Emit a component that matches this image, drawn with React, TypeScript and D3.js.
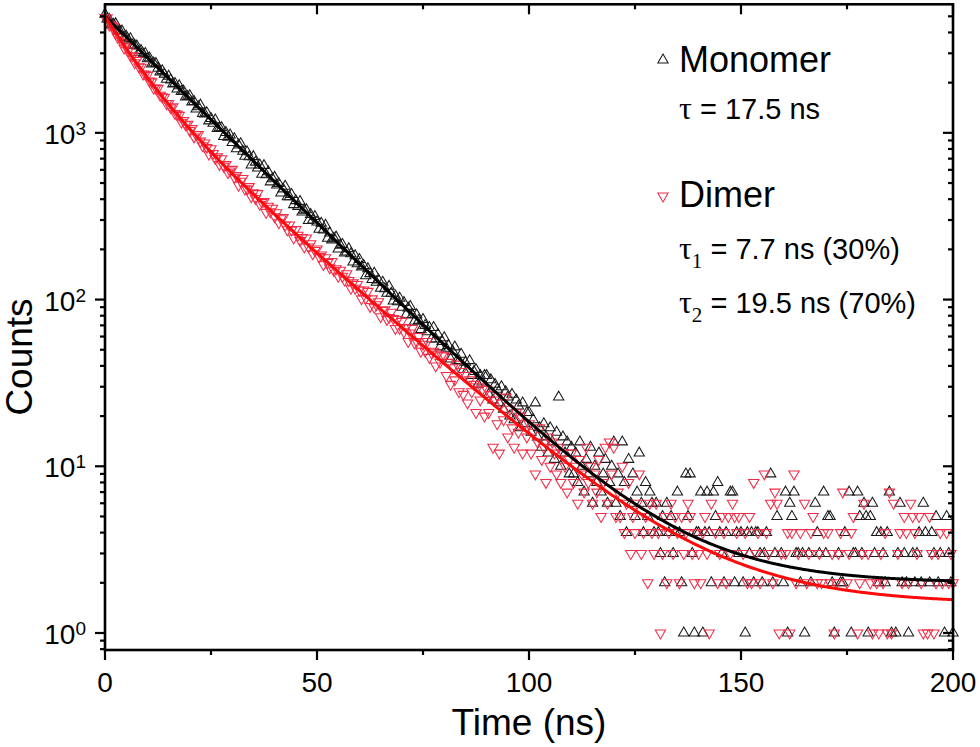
import React from 'react';
import * as d3 from 'd3';

// ---- data ----
const TIME_STEP_NS = 0.5;

const monomerCounts = [
  5150, 4810, 4793, 4428, 4482, 4507, 4128, 4074, 4077, 3750, 3795, 3597, 3673, 3363, 3352, 3322, 3039, 3122, 2960, 2993,
  2784, 2815, 2589, 2620, 2609, 2438, 2321, 2360, 2249, 2098, 2188, 2074, 1966, 1979, 1829, 1915, 1772, 1782, 1639, 1651,
  1669, 1529, 1542, 1389, 1435, 1467, 1305, 1298, 1319, 1179, 1218, 1140, 1194, 1061, 1071, 1072, 951, 1005, 942, 971,
  875, 921, 802, 846, 861, 775, 723, 769, 718, 642, 720, 667, 615, 642, 564, 636, 561, 584, 508, 530,
  541, 486, 496, 436, 461, 478, 413, 414, 427, 371, 392, 362, 388, 335, 343, 346, 298, 324, 300, 315,
  292, 264, 287, 261, 279, 233, 251, 228, 233, 237, 201, 212, 214, 190, 193, 202, 188, 168, 183, 164,
  174, 157, 160, 139, 153, 143, 132, 144, 127, 131, 117, 127, 116, 109, 120, 109, 98, 105, 97, 102,
  90, 96, 81, 89, 91, 81, 74, 81, 75, 66, 76, 70, 64, 68, 58, 68, 58, 62, 52, 56,
  59, 51, 53, 44, 49, 52, 43, 43, 47, 38, 42, 38, 43, 35, 37, 38, 31, 35, 32, 35,
  35, 27, 33, 25, 31, 29, 24, 30, 22, 28, 26, 20, 27, 19, 25, 23, 17, 24, 18, 21,
  21, 16, 19, 24, 15, 17, 13, 18, 15, 12, 17, 14, 11, 16, 26, 10, 15, 12, 14, 9,
  13, 9, 12, 8, 14, 10, 7, 11, 9, 13, 6, 10, 8, 12, 7, 9, 11, 6, 8, 10,
  14, 6, 9, 5, 14, 8, 4, 11, 6, 9, 5, 7, 12, 6, 4, 8, 5, 7, 6, 4,
  6, 4, 3, 5, 2, 6, 4, 5, 3, 4, 7, 4, 2, 1, 9, 5, 9, 3, 1, 4,
  4, 7, 1, 4, 7, 4, 2, 7, 5, 8,
  4, 3, 2, 4, 0, 7, 7, 2, 4, 3,
  4, 2, 1, 4, 3, 4, 2, 4, 4, 3,
  2, 3, 4, 0, 9, 2, 3, 5, 0, 3,
  2, 7, 1, 6, 5, 7, 3, 3, 2, 3,
  1, 0, 3, 2, 0, 6, 4, 3, 0, 7,
  3, 5, 5, 2, 1, 0, 3, 2, 2, 4,
  0, 7, 1, 3, 3, 7, 5, 3, 6, 5,
  1, 5, 6, 3, 4, 2, 4, 3, 2, 4,
  7, 1, 0, 1, 3, 6, 2, 3, 2, 1,
  0, 3, 2, 3, 4, 2, 6, 4, 0, 2,
  4, 3, 5, 2, 3, 0, 1, 5, 3, 2,
  1,
];

const dimerCounts = [
  4926, 4900, 4433, 4412, 4322, 3972, 3728, 3735, 3508, 3225, 3314, 3102, 2904, 2886, 2633, 2722, 2491, 2478, 2255, 2246,
  2212, 2048, 2022, 1851, 1856, 1850, 1682, 1646, 1635, 1493, 1499, 1412, 1433, 1305, 1292, 1273, 1159, 1185, 1118, 1125,
  1032, 1060, 945, 973, 977, 892, 838, 869, 818, 745, 803, 752, 701, 718, 645, 700, 631, 645, 577, 591,
  604, 542, 554, 485, 513, 532, 460, 461, 476, 414, 437, 404, 432, 373, 383, 387, 333, 363, 336, 353,
  314, 332, 289, 305, 311, 280, 262, 280, 261, 234, 263, 243, 226, 236, 207, 234, 207, 216, 188, 197,
  201, 181, 185, 162, 178, 167, 155, 169, 149, 153, 138, 150, 138, 131, 143, 130, 117, 126, 117, 123,
  114, 101, 114, 102, 112, 91, 101, 90, 93, 97, 79, 86, 87, 76, 78, 84, 77, 67, 76, 67,
  74, 64, 68, 56, 63, 67, 55, 56, 60, 49, 54, 49, 56, 45, 48, 49, 40, 47, 42, 46,
  46, 35, 42, 31, 39, 33, 41, 28, 37, 27, 35, 24, 33, 28, 31, 21, 30, 25, 29, 20,
  29, 21, 27, 13, 25, 18, 12, 24, 19, 26, 15, 22, 17, 13, 21, 16, 20, 12, 18, 15,
  18, 12, 16, 9, 14, 17, 11, 13, 8, 15, 10, 14, 12, 9, 13, 8, 12, 10, 7, 11,
  12, 8, 10, 6, 11, 9, 7, 13, 8, 10, 6, 9, 7, 11, 5, 8, 13, 6, 14, 9,
  13, 5, 7, 5, 10, 4, 6, 8, 3, 5, 4, 6, 9, 3, 4, 5, 2, 6, 4, 3,
  6, 4, 1, 3, 5, 2, 4, 6, 3, 5, 4, 2, 5, 3, 4, 6, 5, 3, 2, 4,
  3, 2, 4, 5, 3, 1, 6, 0, 4, 2,
  3, 5, 4, 2, 5, 3, 6, 5, 4, 5,
  0, 3, 4, 2, 5, 2, 8, 3, 4, 2,
  0, 9, 4, 3, 6, 2, 7, 6, 1, 3,
  0, 3, 4, 1, 4, 9, 2, 3, 4, 0,
  6, 2, 3, 4, 5, 0, 2, 3, 2, 4,
  0, 4, 2, 3, 1, 2, 3, 4, 7, 0,
  2, 3, 4, 5, 0, 1, 2, 3, 6, 0,
  3, 2, 1, 0, 2, 1, 3, 2, 4, 1,
  7, 1, 6, 0, 3, 4, 2, 5, 4, 2,
  6, 5, 4, 3, 5, 2, 1, 0, 1, 5,
  3, 1, 2, 3, 4, 2, 0, 4, 2, 3,
  2,
];

// fit parameters (mono- and bi-exponential decay + background)
const monomerFitAmp = 5000;
const monomerFitTau = 17.5;
const monomerFitBg = 2.0;
const dimerFitAmps = [2600, 2400];
const dimerFitTaus = [7.7, 19.5];
const dimerFitBg = 1.5;

const xTicks = [0, 50, 100, 150, 200];
const xMinorTicks = [25, 75, 125, 175];
const yTickExponents = [0, 1, 2, 3];

// ---- layout ----
const W = 980;
const H = 747;
const LEFT = 105;
const RIGHT = 953;
const TOP = 4.3;
const BOTTOM = 650;

const SANS = 'Arial, "Liberation Sans", Helvetica, sans-serif';
const SERIF = '"Liberation Serif", "Times New Roman", "DejaVu Serif", serif';
const BLACK_MARK = '#1a1a1a';
const RED = '#f22c48';
const RED_LINE = '#ff0a0a';

export default function App() {
  const x = d3.scaleLinear().domain([0, 200]).range([LEFT, RIGHT]);
  const y = d3.scaleLog().domain([0.7907, 5902]).range([BOTTOM, TOP]);

  const times = monomerCounts.map((_, i) => i * TIME_STEP_NS);
  const monoPts = monomerCounts
    .map((c, i) => ({ t: times[i], c }))
    .filter((d) => d.c > 0);
  const dimPts = dimerCounts
    .map((c, i) => ({ t: i * TIME_STEP_NS, c }))
    .filter((d) => d.c > 0);

  const monoFit = times.map((t) => ({
    t,
    v: monomerFitAmp * Math.exp(-t / monomerFitTau) + monomerFitBg,
  }));
  const dimFit = times.map((t) => ({
    t,
    v:
      dimerFitAmps[0] * Math.exp(-t / dimerFitTaus[0]) +
      dimerFitAmps[1] * Math.exp(-t / dimerFitTaus[1]) +
      dimerFitBg,
  }));

  const line = d3
    .line<{ t: number; v: number }>()
    .x((d) => x(d.t))
    .y((d) => y(d.v))
    .curve(d3.curveMonotoneX);

  const tri = d3.symbol().type(d3.symbolTriangle).size(46)() as string;

  const [yLo, yHi] = y.domain();
  const minorY: number[] = [];
  for (let e = -1; e <= 3; e++) {
    for (let m = 2; m <= 9; m++) {
      const v = m * Math.pow(10, e);
      if (v >= yLo && v <= yHi) minorY.push(v);
    }
  }

  const axisStroke = 2.6;

  return (
    <svg
      width={W}
      height={H}
      style={{ position: 'absolute', left: 0, top: 0, background: '#fff' }}
      fontFamily={SANS}
    >
      <rect x={0} y={0} width={W} height={H} fill="#fff" />

      {/* data markers */}
      <g fill="none" stroke={BLACK_MARK} strokeWidth={1.05}>
        {monoPts.map((d, i) => (
          <path key={i} d={tri} transform={`translate(${x(d.t)},${y(d.c)})`} />
        ))}
      </g>
      <g fill="none" stroke={RED} strokeWidth={1.05}>
        {dimPts.map((d, i) => (
          <path key={i} d={tri} transform={`translate(${x(d.t)},${y(d.c)}) rotate(180)`} />
        ))}
      </g>

      {/* fits */}
      <path d={line(monoFit) as string} fill="none" stroke="#000" strokeWidth={3} />
      <path d={line(dimFit) as string} fill="none" stroke={RED_LINE} strokeWidth={3} />

      {/* frame */}
      <rect
        x={LEFT}
        y={TOP}
        width={RIGHT - LEFT}
        height={BOTTOM - TOP}
        fill="none"
        stroke="#000"
        strokeWidth={axisStroke}
      />

      {/* x ticks */}
      <g stroke="#000" strokeWidth={2.2}>
        {xTicks.map((t) => (
          <g key={'xt' + t}>
            <line x1={x(t)} x2={x(t)} y1={BOTTOM} y2={BOTTOM + 10} />
            <line x1={x(t)} x2={x(t)} y1={TOP} y2={TOP + 10} />
          </g>
        ))}
        {xMinorTicks.map((t) => (
          <g key={'xm' + t}>
            <line x1={x(t)} x2={x(t)} y1={BOTTOM} y2={BOTTOM + 5} />
            <line x1={x(t)} x2={x(t)} y1={TOP} y2={TOP + 5} />
          </g>
        ))}
      </g>
      <g fontSize={28} textAnchor="middle" fill="#000">
        {xTicks.map((t) => (
          <text key={'xl' + t} x={x(t)} y={692}>
            {t}
          </text>
        ))}
      </g>

      {/* y ticks */}
      <g stroke="#000" strokeWidth={2.2}>
        {yTickExponents.map((e) => {
          const yy = y(Math.pow(10, e));
          return (
            <g key={'yt' + e}>
              <line x1={LEFT - 10} x2={LEFT} y1={yy} y2={yy} />
              <line x1={RIGHT - 10} x2={RIGHT} y1={yy} y2={yy} />
            </g>
          );
        })}
        {minorY.map((v, i) => (
          <g key={'ym' + i}>
            <line x1={LEFT - 5} x2={LEFT} y1={y(v)} y2={y(v)} />
            <line x1={RIGHT - 5} x2={RIGHT} y1={y(v)} y2={y(v)} />
          </g>
        ))}
      </g>
      <g fontSize={28} fill="#000" textAnchor="end">
        {yTickExponents.map((e) => {
          const yy = y(Math.pow(10, e));
          return (
            <text key={'yl' + e} x={86} y={yy + 11}>
              10
              <tspan fontSize={19} dy={-9}>
                {e}
              </tspan>
            </text>
          );
        })}
      </g>

      {/* axis titles */}
      <text x={529} y={735} fontSize={37} textAnchor="middle" fill="#000">
        Time (ns)
      </text>
      <text
        transform="translate(32,357) rotate(-90)"
        fontSize={37}
        textAnchor="middle"
        fill="#000"
      >
        Counts
      </text>

      {/* legend */}
      <path d={tri} transform="translate(663,60)" fill="none" stroke={BLACK_MARK} strokeWidth={1.05} />
      <text x={679} y={72} fontSize={36} fill="#000">
        Monomer
      </text>
      <text x={679} y={119} fontSize={29} fill="#000">
        <tspan fontFamily={SERIF} fontSize={32}>τ</tspan>
        <tspan> = 17.5 ns</tspan>
      </text>

      <path
        d={tri}
        transform="translate(663,196) rotate(180)"
        fill="none"
        stroke={RED}
        strokeWidth={1.05}
      />
      <text x={679} y={207} fontSize={36} fill="#000">
        Dimer
      </text>
      <text x={679} y={259} fontSize={29} fill="#000">
        <tspan fontFamily={SERIF} fontSize={32}>τ</tspan>
        <tspan fontFamily={SERIF} fontSize={21} dy={9}>1</tspan>
        <tspan dy={-9}> = 7.7 ns (30%)</tspan>
      </text>
      <text x={679} y={313} fontSize={29} fill="#000">
        <tspan fontFamily={SERIF} fontSize={32}>τ</tspan>
        <tspan fontFamily={SERIF} fontSize={21} dy={9}>2</tspan>
        <tspan dy={-9}> = 19.5 ns (70%)</tspan>
      </text>
    </svg>
  );
}
